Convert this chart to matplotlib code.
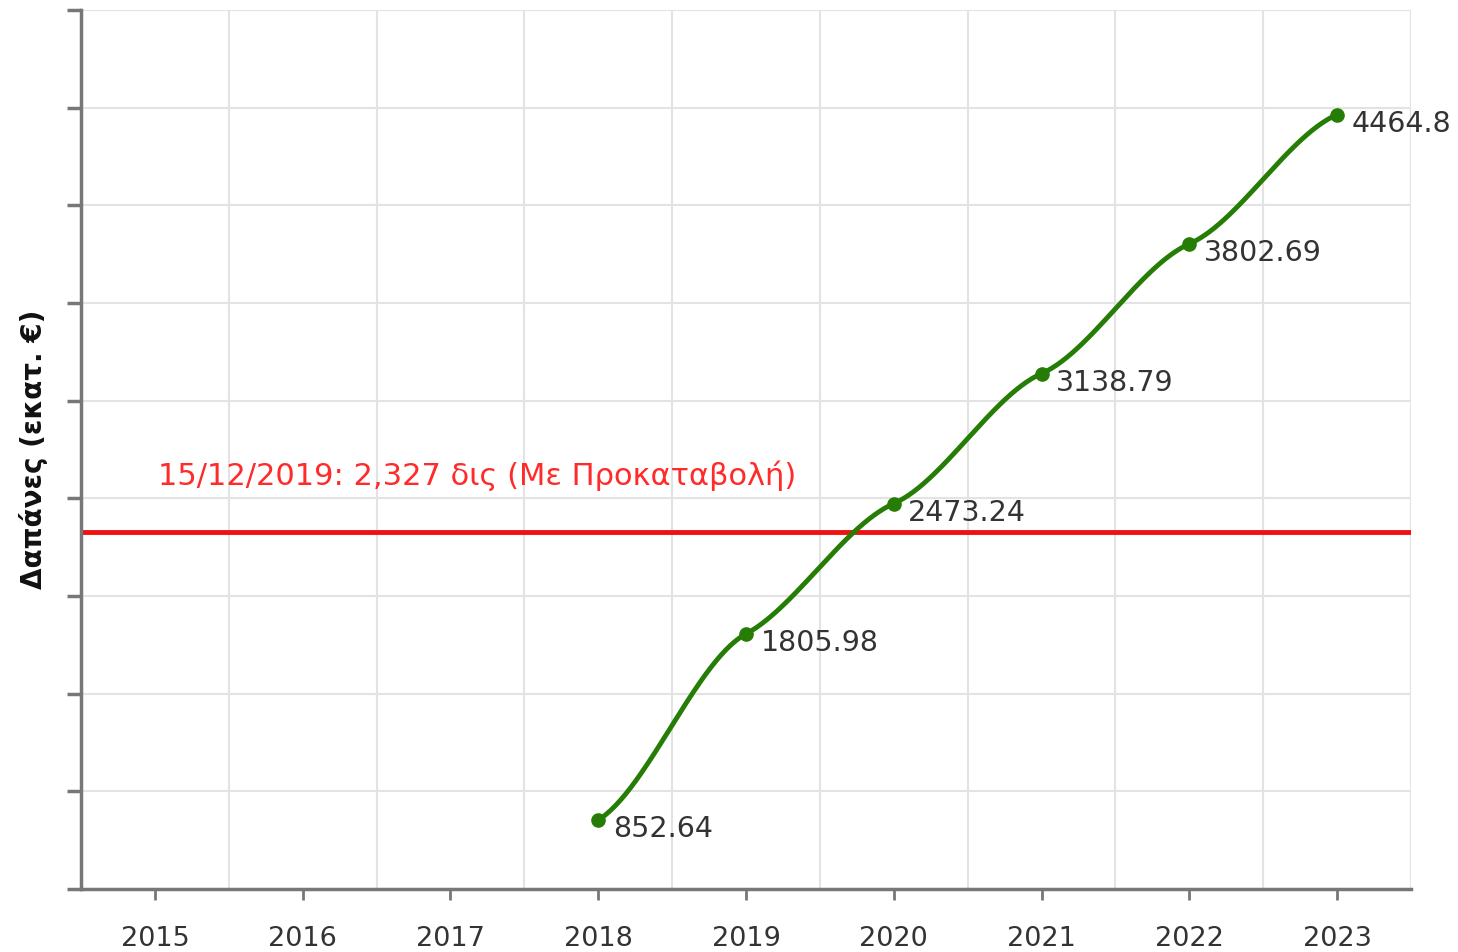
import numpy as np
import matplotlib.pyplot as plt
from matplotlib.ticker import MultipleLocator

# δεδομένα
years = [2015, 2016, 2017, 2018, 2019, 2020, 2021, 2022, 2023]
data_years = [2018, 2019, 2020, 2021, 2022, 2023]
spending = [852.64, 1805.98, 2473.24, 3138.79, 3802.69, 4464.8]
ref_value = 2327
ref_label = "15/12/2019: 2,327 δις (Με Προκαταβολή)"
y_label = "Δαπάνες (εκατ. €)"

green = "#267d05"
axis_gray = "#777777"


# Ομαλή καμπύλη (Hermite με μειωμένες κλίσεις)
def smooth_curve(xs, ys, k=0.5, n=60):
    xs = np.asarray(xs, float)
    ys = np.asarray(ys, float)
    slopes = np.diff(ys) / np.diff(xs)
    m = np.empty_like(ys)
    m[0] = slopes[0]
    m[-1] = slopes[-1]
    m[1:-1] = (slopes[:-1] + slopes[1:]) / 2
    m *= k
    out_x, out_y = [], []
    for i in range(len(xs) - 1):
        h = xs[i + 1] - xs[i]
        t = np.linspace(0, 1, n)
        h00 = 2 * t**3 - 3 * t**2 + 1
        h10 = t**3 - 2 * t**2 + t
        h01 = -2 * t**3 + 3 * t**2
        h11 = t**3 - t**2
        out_x.append(xs[i] + t * h)
        out_y.append(h00 * ys[i] + h10 * h * m[i] + h01 * ys[i + 1] + h11 * h * m[i + 1])
    return np.concatenate(out_x), np.concatenate(out_y)


fig = plt.figure(figsize=(14.58, 9.52), dpi=100)
ax = fig.add_axes([81 / 1458, 1 - 889 / 952, (1411 - 81) / 1458, (889 - 10) / 952])

ax.set_xlim(years[0] - 0.5, years[-1] + 0.5)
ax.set_ylim(500, 5000)

ax.set_xticks(years)
ax.set_xticklabels([str(y) for y in years])
ax.xaxis.set_minor_locator(MultipleLocator(1, offset=0.5))
ax.yaxis.set_major_locator(MultipleLocator(500))
ax.set_yticklabels([])

ax.grid(which="minor", axis="x", color="#e3e3e3", linewidth=1.5)
ax.grid(which="major", axis="y", color="#e3e3e3", linewidth=1.5)
ax.set_axisbelow(True)

ax.tick_params(axis="x", which="major", length=8, width=2, color=axis_gray,
               labelsize=19.5, labelcolor="#333333", pad=19)
ax.tick_params(axis="x", which="minor", length=0)
ax.tick_params(axis="y", which="major", length=10, width=2.5, color=axis_gray)

for side in ["top", "right"]:
    ax.spines[side].set_visible(False)
for side in ["left", "bottom"]:
    ax.spines[side].set_color(axis_gray)
    ax.spines[side].set_linewidth(2.5)

ax.set_ylabel(y_label, fontsize=20, fontweight="bold", color="#111111", labelpad=10)

# γραμμή αναφοράς
ax.axhline(ref_value, color="#ee1111", linewidth=3.5, zorder=2)
ax.text(2015.02, 2615, ref_label, color="#ff2a2a", fontsize=22, va="center", ha="left")

# καμπύλη δαπανών
cx, cy = smooth_curve(data_years, spending, k=0.5)
ax.plot(cx, cy, color=green, linewidth=3.5, zorder=3, solid_capstyle="round")
ax.plot(data_years, spending, "o", color=green, markersize=9.5, zorder=4)

for x, v in zip(data_years, spending):
    ax.annotate(f"{v:g}", (x, v), xytext=(10.5, -6.5), textcoords="offset points",
                fontsize=20.5, color="#333333", ha="left", va="center")

fig.savefig("out.png", dpi=100)
